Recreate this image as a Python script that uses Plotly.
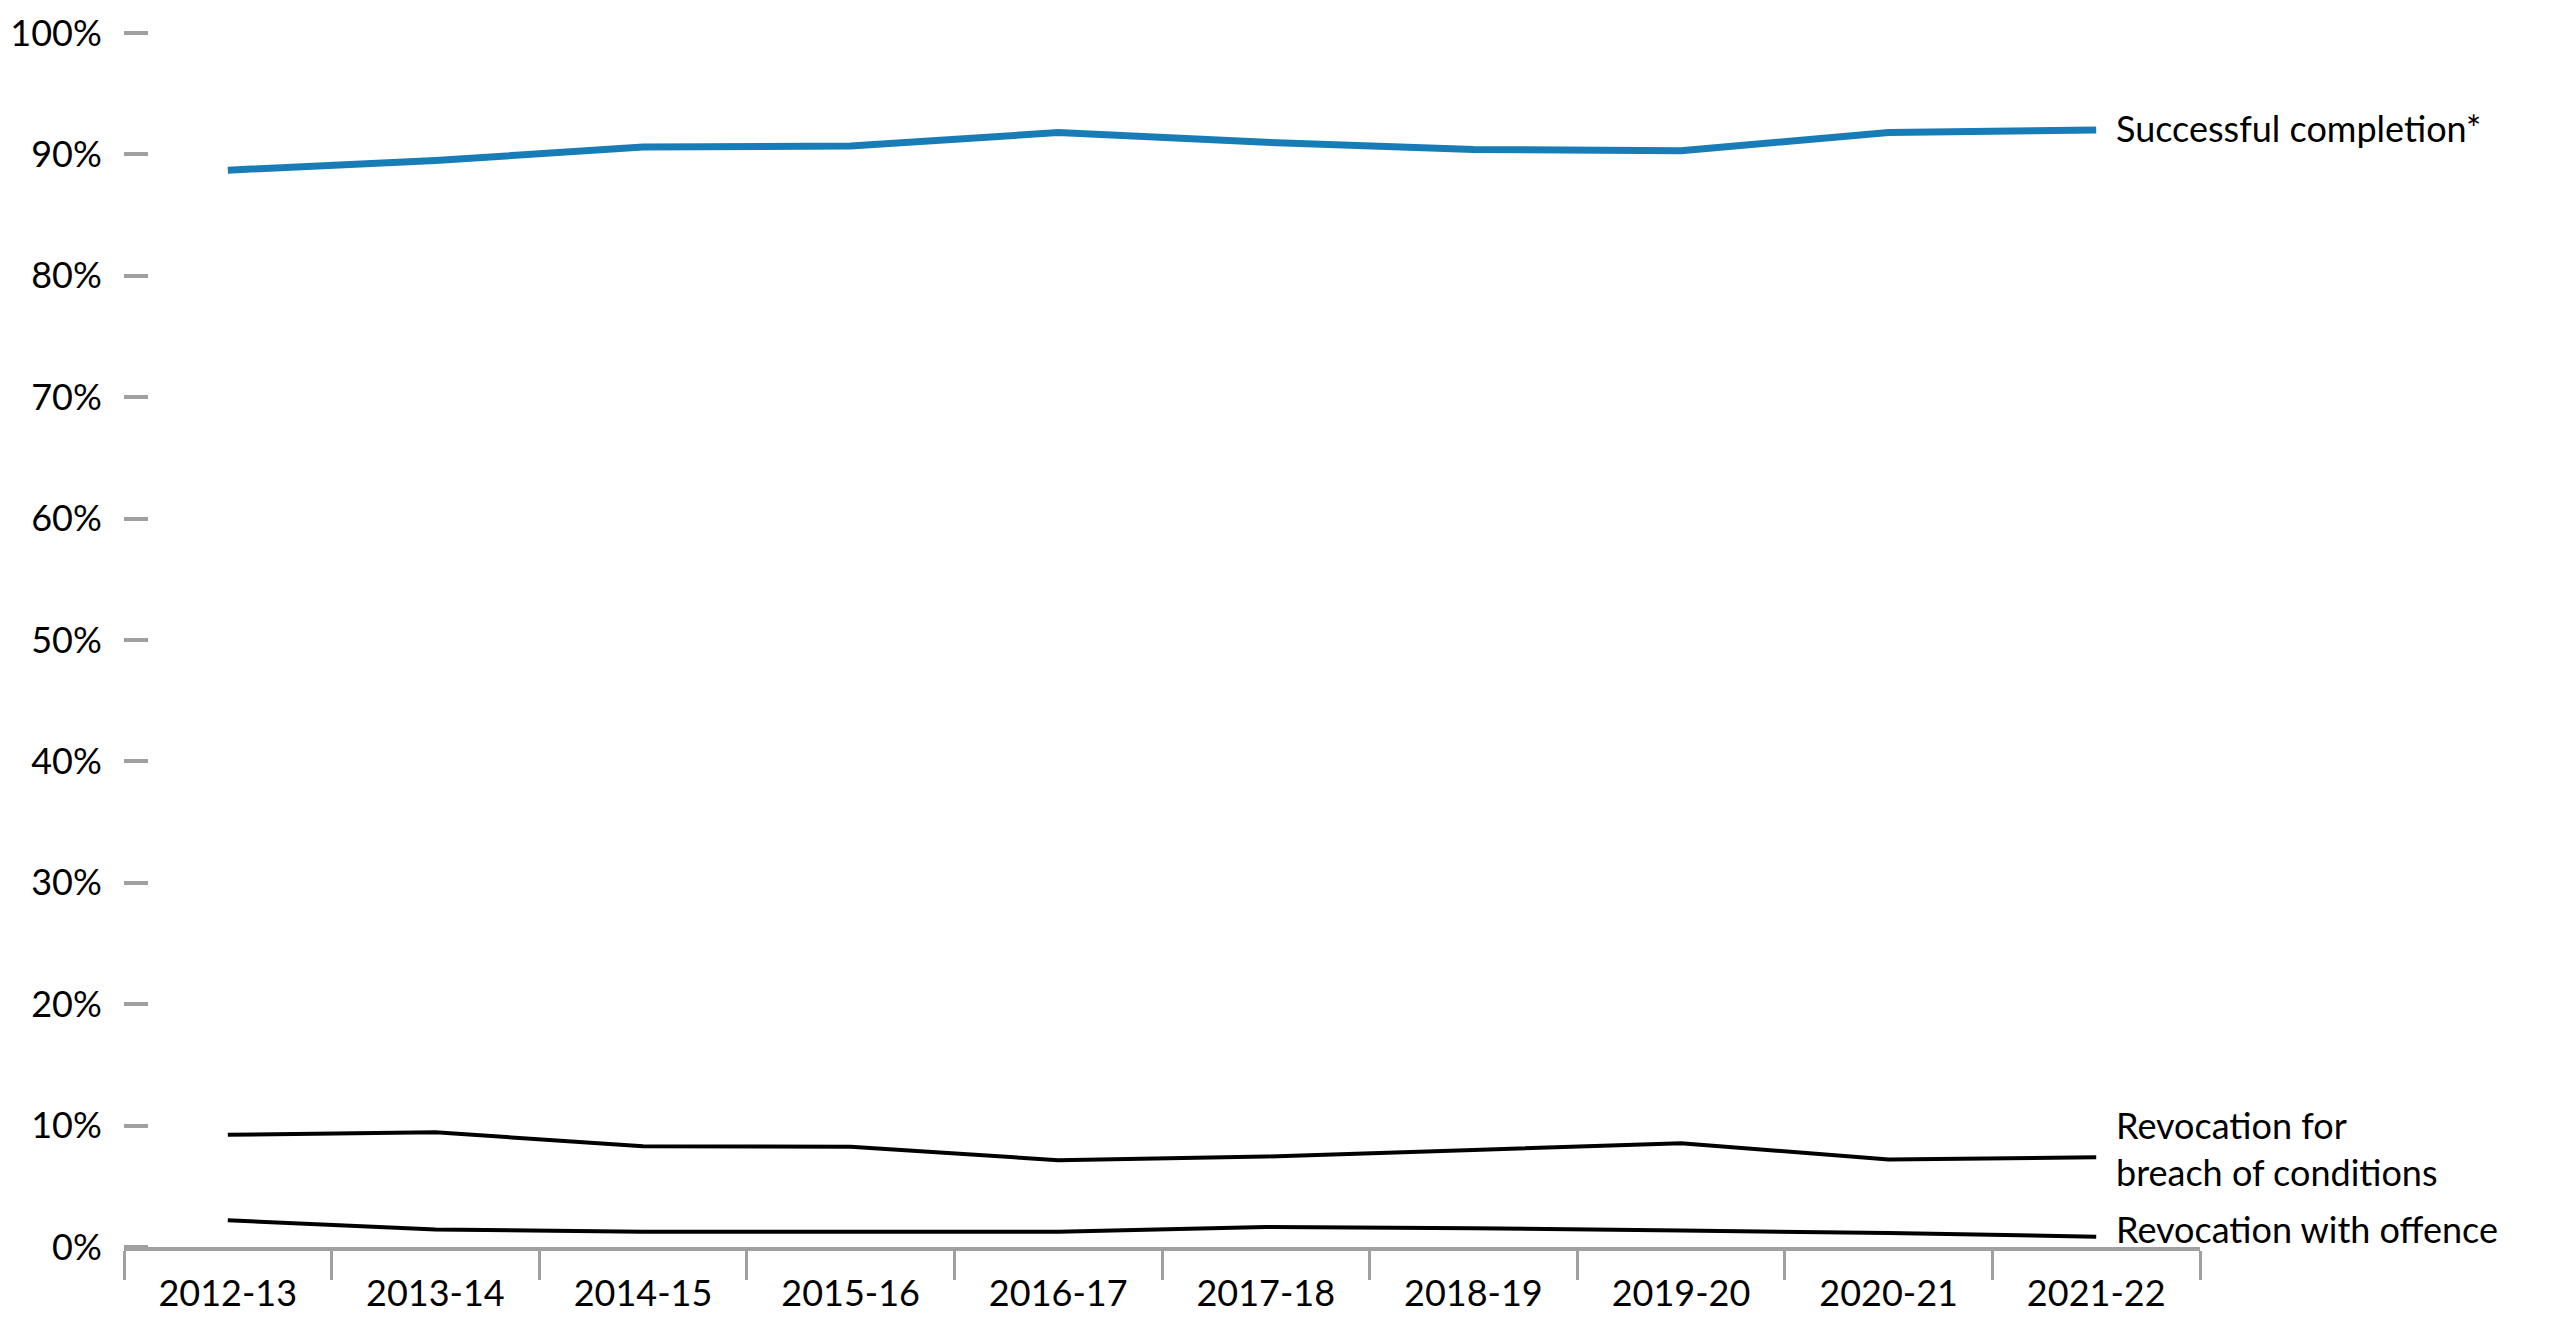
import plotly.graph_objects as go

years = ["2012-13", "2013-14", "2014-15", "2015-16", "2016-17",
         "2017-18", "2018-19", "2019-20", "2020-21", "2021-22"]
successful = [88.7, 89.5, 90.6, 90.7, 91.8, 91.0, 90.4, 90.3, 91.8, 92.0]
breach = [9.25, 9.45, 8.3, 8.25, 7.15, 7.45, 8.0, 8.55, 7.2, 7.4]
offence = [2.2, 1.45, 1.25, 1.25, 1.25, 1.65, 1.55, 1.35, 1.15, 0.85]
y_ticks = [0, 10, 20, 30, 40, 50, 60, 70, 80, 90, 100]
y_tick_text = [f"{v}%" for v in y_ticks]

FONT = "Lato"
BLUE = "#187DB6"
GRAY = "#A0A0A0"

fig = go.Figure()
fig.add_trace(go.Scatter(x=years, y=successful, mode="lines",
                         line=dict(color=BLUE, width=7), hoverinfo="skip"))
fig.add_trace(go.Scatter(x=years, y=breach, mode="lines",
                         line=dict(color="#000000", width=4), hoverinfo="skip"))
fig.add_trace(go.Scatter(x=years, y=offence, mode="lines",
                         line=dict(color="#000000", width=4), hoverinfo="skip"))

labels = [
    ("Successful completion*", successful[-1], 2),
    ("Revocation for<br>breach of conditions", breach[-1], 9),
    ("Revocation with offence", offence[-1], 8),
]
for text, yv, ys in labels:
    fig.add_annotation(x=years[-1], y=yv, xref="x", yref="y", text=text,
                       showarrow=False, xanchor="left", yanchor="middle",
                       align="left", xshift=18, yshift=ys,
                       font=dict(family=FONT, size=36, color="#000000"))

fig.update_layout(
    width=2550, height=1340,
    margin=dict(l=116, r=358, t=25, b=101),
    paper_bgcolor="white", plot_bgcolor="white",
    showlegend=False,
    font=dict(family=FONT, size=36, color="#000000"),
)
fig.update_xaxes(
    type="category", range=[-0.5, 9.5], automargin=False,
    showline=True, linecolor=GRAY, linewidth=4,
    ticks="outside", tickson="boundaries", ticklen=29, tickwidth=3, tickcolor=GRAY,
    ticklabelstandoff=12,
    showgrid=False, zeroline=False,
    tickfont=dict(family=FONT, size=36, color="#000000"),
)
fig.update_yaxes(
    range=[0, 100], tickmode="array", tickvals=y_ticks, ticktext=y_tick_text,
    automargin=False, anchor="free", position=24 / 2076,
    showline=False, showgrid=False, zeroline=False,
    ticks="outside", ticklen=24, tickwidth=4, tickcolor=GRAY,
    ticklabelstandoff=15, ticklabeloverflow="allow",
    tickfont=dict(family=FONT, size=36, color="#000000"),
)

fig.write_html("out.html")
